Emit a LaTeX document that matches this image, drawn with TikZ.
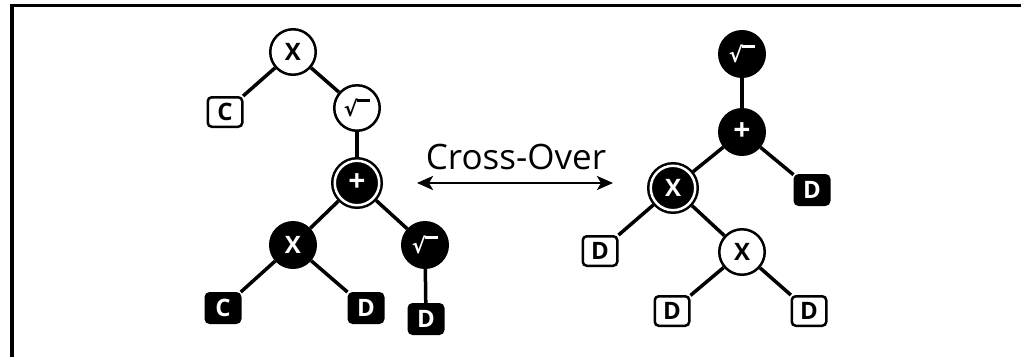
\documentclass[tikz,border=0pt]{standalone}
\usepackage{fontspec}
\setsansfont{Open Sans}
\newfontfamily\captionfont{Open Sans}
\newfontfamily\radfont{DejaVu Sans}
\usetikzlibrary{arrows.meta}

% radical sign with its bar, set from the glyph's own height
\newsavebox\radbox
\newcommand{\radsign}{%
  \sbox\radbox{\radfont\bfseries\fontsize{21}{21}\selectfont √}%
  \usebox\radbox\kern-0.9pt\rule[\dimexpr\ht\radbox-2.8pt\relax]{13pt}{2.8pt}}

\tikzset{
  opw/.style={circle, draw=black, fill=white, line width=2.5pt,
    minimum size=45.5pt, inner sep=0pt,
    font=\sffamily\bfseries\fontsize{24}{24}\selectfont},
  opb/.style={opw, fill=black, text=white},
  opsel/.style={opb, double=white, double distance=2.5pt,
    minimum size=44.5pt, outer sep=3.75pt},
  leafw/.style={rectangle, rounded corners=4pt, draw=black, fill=white,
    line width=2.5pt, minimum width=34.5pt, minimum height=29.5pt,
    inner sep=0pt, font=\sffamily\bfseries\fontsize{24}{24}\selectfont},
  leafb/.style={leafw, fill=black, text=white},
  link/.style={line width=3.5pt, black},
  swap/.style={line width=2.5pt, {Stealth[length=16pt,width=14pt,inset=4pt]}-{Stealth[length=16pt,width=14pt,inset=4pt]}},
  pluslabel/.style={font=\sffamily\bfseries\fontsize{30}{30}\selectfont}
}

\begin{document}
\begin{tikzpicture}[x=1pt, y=-1pt]
\useasboundingbox (0,0) rectangle (1021,357);

% frame
\draw[line width=3.6pt, line cap=butt] (12,357) -- (12,5.5) -- (1021,5.5);

% first tree
\node[opw] (lx) at (293,52) {X};
\node[leafw] (lc) at (225,112) {C};
\node[opw] (lr) at (357,108) {\radsign};
\node[opsel, pluslabel] (lp) at (357,183) {+};
\node[opb] (lx2) at (293,245) {X};
\node[opb] (lr2) at (425,245) {\color{white}\radsign};
\node[leafb] (lc2) at (223,308) {C};
\node[leafb] (ld2) at (366,308) {D};
\node[leafb] (ld3) at (426,319) {D};

\draw[link] (lx) -- (lc);
\draw[link] (lx) -- (lr);
\draw[link] (lr) -- (lp);
\draw[link] (lp) -- (lx2);
\draw[link] (lp) -- (lr2);
\draw[link] (lx2) -- (lc2);
\draw[link] (lx2) -- (ld2);
\draw[link] (lr2) -- (ld3);

% second tree
\node[opb] (rr) at (742,54) {\color{white}\radsign};
\node[opb, pluslabel] (rp) at (742,132) {+};
\node[opsel] (rx) at (673,188) {X};
\node[leafb] (rd) at (812,190) {D};
\node[leafw] (rd2) at (600,251) {D};
\node[opw] (rx2) at (742,252) {X};
\node[leafw] (rd3) at (672,311) {D};
\node[leafw] (rd4) at (809,311) {D};

\draw[link] (rr) -- (rp);
\draw[link] (rp) -- (rx);
\draw[link] (rp) -- (rd);
\draw[link] (rx) -- (rd2);
\draw[link] (rx) -- (rx2);
\draw[link] (rx2) -- (rd3);
\draw[link] (rx2) -- (rd4);

% exchange arrow
\coordinate (sl) at (417,183);
\coordinate (sr) at (613,183);
\draw[swap] (sl) -- (sr);
\node[font=\captionfont\fontsize{35}{35}\selectfont, inner sep=0pt] (cap) at (516,157) {Cross-Over};
\end{tikzpicture}
\end{document}
